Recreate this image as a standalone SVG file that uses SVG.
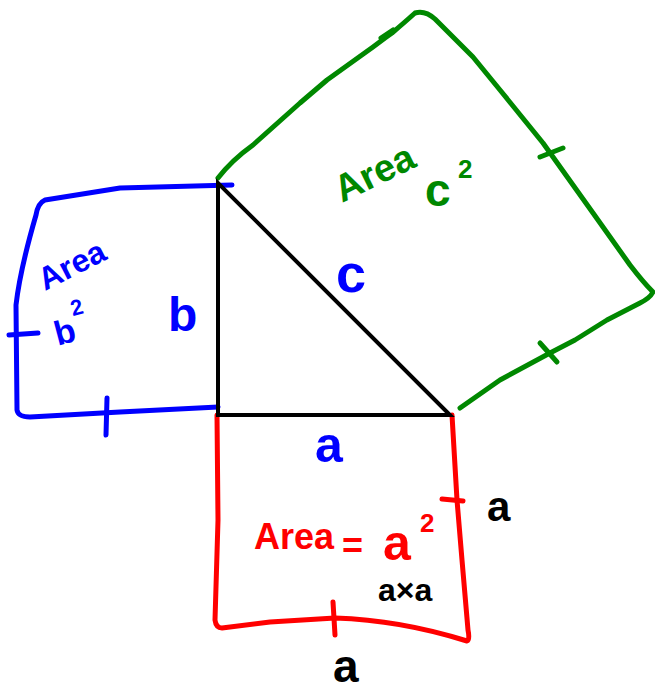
<svg xmlns="http://www.w3.org/2000/svg" width="655" height="695" viewBox="0 0 655 695">
<style>
.ink{fill:none;stroke-linecap:round;stroke-linejoin:round;stroke-width:5}
.blue{stroke:#0000ff}.green{stroke:#008800}.red{stroke:#ff0000}
.tri{fill:none;stroke:#000;stroke-width:4;stroke-linejoin:miter}
.t{font-family:"Liberation Sans",Arial,sans-serif;font-weight:bold}
.tb{fill:#0000ff}.tg{fill:#008800}.tr{fill:#ff0000}.tk{fill:#000}
</style>
<rect width="655" height="695" fill="#fff"/>
<g id="square-c">
<path class="ink green" d="M218,178 Q232,160 253,145 L300,103 L327,80 L373,47 L385,38 L392,33 Q405,22 415,13 Q425,10 435,19 L473,57 L500,90 L543,143 L593,213 L630,265 Q643,282 653,292 Q650,298 640,303 L607,320 L575,340 L550,353 L500,380 L460,408"/>
<path class="ink green" d="M381,38 L393,30"/>
<path class="ink green" d="M540,157 L563,148"/>
<path class="ink green" d="M540,343 L557,362"/>
<text class="t tg" font-size="38" transform="translate(342,203) rotate(-26)">Area</text>
<text class="t tg" font-size="46" x="425" y="206">c</text>
<text class="t tg" font-size="26" x="458" y="178">2</text>
</g>
<g id="square-b">
<path class="ink blue" d="M232,185 L120,188 L45,200 Q38,203 36,215 Q20,270 16,305 L17,410 Q18,417 30,417 L120,412 L218,407"/>
<path class="ink blue" d="M9,335 L38,333"/>
<path class="ink blue" d="M107,398 L106,435"/>
<text class="t tb" font-size="32" transform="translate(45,291) rotate(-27)">Area</text>
<text class="t tb" font-size="34" x="54" y="343" transform="rotate(-15 66 330)">b</text>
<text class="t tb" font-size="22" x="70" y="314" transform="rotate(-15 80 305)">2</text>
<text class="t tb" font-size="48" x="168" y="331">b</text>
</g>
<g id="square-a">
<path class="ink red" d="M217,415 L218,520 L215,620 Q216,628 222,628 L270,622 L335,618 Q400,620 467,641 Q470,640 468,630 L462,560 L457,500 L452,415"/>
<path class="ink red" d="M442,499 L463,501"/>
<path class="ink red" d="M333,602 L335,635"/>
<text class="t tr" font-size="36" x="254" y="549">Area</text>
<text class="t tr" font-size="36" x="342" y="558">=</text>
<text class="t tr" font-size="50" x="383" y="560">a</text>
<text class="t tr" font-size="26" x="420" y="532">2</text>
<text class="t tk" font-size="32" x="378" y="601">a×a</text>
<text class="t tk" font-size="42" x="487" y="521">a</text>
<text class="t tk" font-size="46" x="333" y="682">a</text>
</g>
<g id="triangle">
<path class="tri" d="M218,183 L218,415 L450,415 Z"/>
<text class="t tb" font-size="54" x="336" y="292">c</text>
<text class="t tb" font-size="50" x="315" y="462">a</text>
</g>
<g id="connectors"/>
</svg>
